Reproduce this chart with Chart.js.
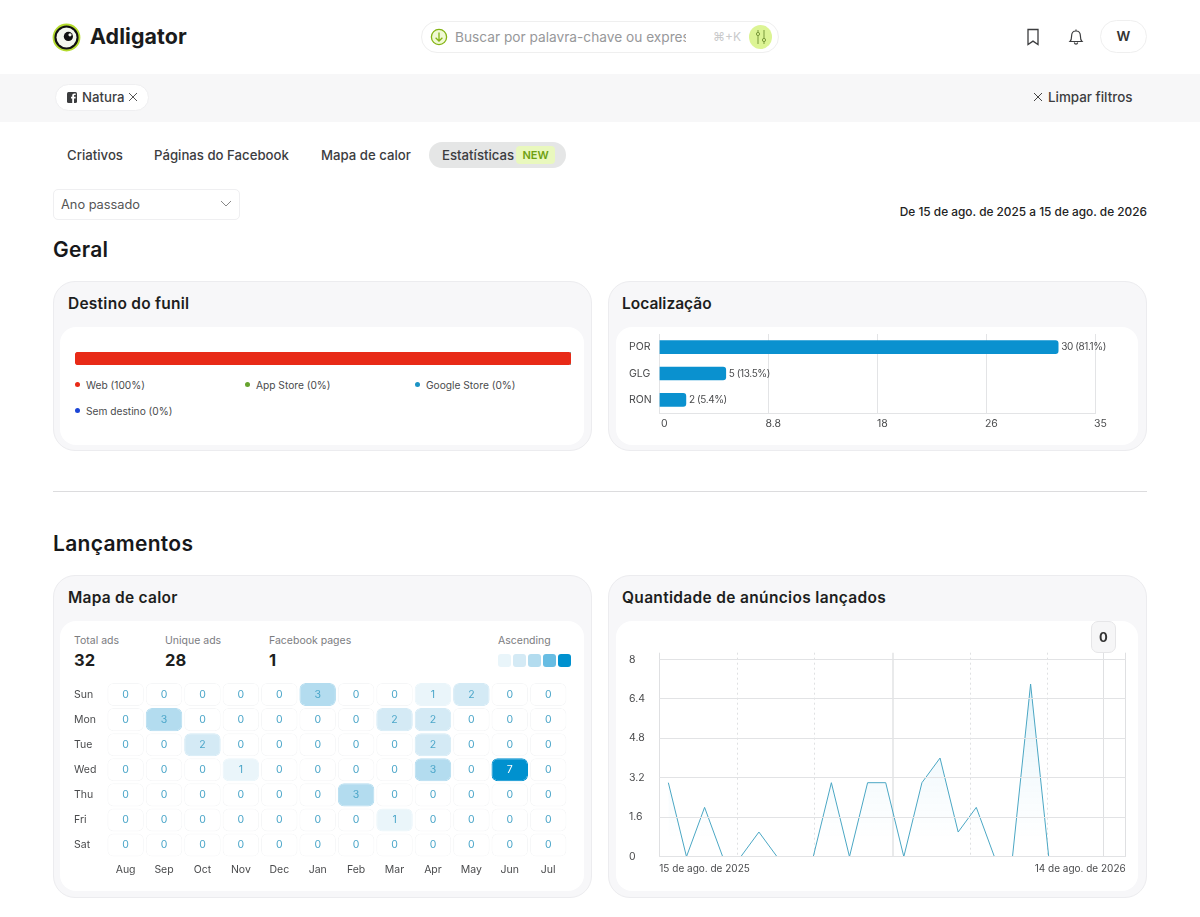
<!DOCTYPE html>
<html lang="pt">
<head>
<meta charset="utf-8">
<title>Adligator</title>
<script src="https://cdn.jsdelivr.net/npm/chart.js@4"></script>
<style>
html, body { margin: 0; padding: 0; background: #fff; }
body { position: relative; width: 1200px; height: 917px; overflow: hidden; font-family: Inter, sans-serif; color: #3c3d3f; }
.abs { position: absolute; }
.t { position: absolute; white-space: nowrap; line-height: 20px; }
.card { position: absolute; background: #f7f7f9; border: 1px solid #ececef; border-radius: 22px; box-sizing: border-box; }
.inner { position: absolute; background: #fff; border-radius: 16px; }
.cardTitle { font-size: 15.5px; font-weight: 600; color: #1d1e20; letter-spacing: 0.25px; }
.h2 { font-size: 21px; font-weight: 600; color: #17181a; letter-spacing: 0.3px; }
canvas { position: absolute; }
.stat { font-size: 16.5px; font-weight: 700; color: #1d1e20; }
.statLabel { font-size: 10.5px; color: #7b7c7f; }
.lgDot { position: absolute; width: 5px; height: 5px; border-radius: 50%; }
.lgText { font-size: 10.2px; color: #4a4b4d; }
.swatch { position: absolute; top: 654px; width: 13px; height: 13px; border-radius: 3px; }
</style>
</head>
<body>

<!-- header -->
<svg class="abs" style="left:52px;top:23px" width="29" height="29" viewBox="0 0 29 29">
  <circle cx="14.5" cy="14.5" r="13" fill="#111" stroke="#b5dc2f" stroke-width="1.8"/>
  <circle cx="14.5" cy="14.5" r="10" fill="#f4f7ee"/>
  <circle cx="16.4" cy="13.4" r="4.6" fill="#111"/>
  <circle cx="18" cy="11.8" r="1.6" fill="#f4f7ee"/>
</svg>
<div class="t" style="left:90px;top:26px;font-size:21.4px;font-weight:700;color:#1a1b1c;letter-spacing:0.1px">Adligator</div>

<div class="abs" style="left:421px;top:21px;width:358px;height:32px;border:1px solid #efefef;border-radius:16px;box-sizing:border-box"></div>
<svg class="abs" style="left:430px;top:28px" width="18" height="18" viewBox="0 0 18 18" fill="none" stroke="#84b414" stroke-width="1.3">
  <circle cx="9" cy="9" r="7.6" fill="#f0f9d4"/><path d="M9 4.5v8.5M5.6 9.8 9 13l3.4-3.2"/>
</svg>
<div class="abs" style="left:455px;top:26px;width:231px;height:22px;overflow:hidden">
  <div class="t" style="left:0;top:1px;font-size:13.7px;color:#97989a">Buscar por palavra-chave ou expressão</div>
</div>
<div class="t" style="left:713px;top:27px;font-size:12px;color:#c9cacb">⌘+K</div>
<div class="abs" style="left:749px;top:25px;width:23px;height:24px;background:#dcf494;border-radius:50%"></div>
<svg class="abs" style="left:754px;top:29px" width="14" height="16" viewBox="0 0 14 16" fill="none" stroke="#7b9a3c" stroke-width="1">
  <path d="M4 1v14M10 1v14"/><circle cx="4" cy="5" r="1.6" fill="#dcf494"/><circle cx="10" cy="11" r="1.6" fill="#dcf494"/>
</svg>

<svg class="abs" style="left:1026px;top:28px" width="14" height="18" viewBox="0 0 14 18" fill="none" stroke="#3c3d3f" stroke-width="1.3">
  <path d="M2 1.5h10v15l-5-3.4-5 3.4z"/>
</svg>
<svg class="abs" style="left:1068px;top:28px" width="16" height="18" viewBox="0 0 16 18" fill="none" stroke="#3c3d3f" stroke-width="1.2">
  <path d="M2 13.5c1.4-1.4 1.6-3 1.6-5.5C3.6 5 5.500 3 8 3s4.400 2 4.400 5c0 2.500.2 4.100 1.600 5.500zM6.300 14.500c.3 1.200 1 1.700 1.700 1.700s1.400-.5 1.700-1.700M8 1.500V3"/>
</svg>
<div class="abs" style="left:1100px;top:20px;width:47px;height:33px;border:1px solid #efefef;border-radius:17px;box-sizing:border-box"></div>
<div class="t" style="left:1100px;width:47px;text-align:center;top:26px;font-size:13.5px;font-weight:600;color:#333">W</div>

<!-- filter bar -->
<div class="abs" style="left:0;top:74px;width:1200px;height:48px;background:#f7f7f8"></div>
<div class="abs" style="left:55px;top:84px;width:94px;height:27px;background:#fff;border:1px solid #efeff1;border-radius:14px;box-sizing:border-box"></div>
<svg class="abs" style="left:67px;top:92px" width="10" height="11" viewBox="0 0 10 11">
  <rect width="10" height="11" rx="1.500" fill="#3c3d3f"/><path d="M7 11V6.500h1.500l.2-1.700H7V3.700c0-.5.2-.8.9-.8h.8V1.400H7.400C6 1.400 5.200 2.200 5.200 3.500v1.300H4v1.700h1.200V11z" fill="#fff"/>
</svg>
<div class="t" style="left:82px;top:87px;font-size:13.2px;font-weight:500;color:#3c3d3f">Natura</div>
<svg class="abs" style="left:128px;top:92px" width="10" height="10" stroke="#555" stroke-width="1"><path d="M1 1l8 8M9 1l-8 8"/></svg>
<svg class="abs" style="left:1033px;top:92px" width="10" height="10" stroke="#444" stroke-width="1"><path d="M1 1l8 8M9 1l-8 8"/></svg>
<div class="t" style="left:1048px;top:87px;font-size:13.4px;font-weight:500;color:#3c3d3f">Limpar filtros</div>

<!-- tabs -->
<div class="t" style="left:67px;top:145px;font-size:13.2px;font-weight:500">Criativos</div>
<div class="t" style="left:154px;top:145px;font-size:13.2px;font-weight:500">Páginas do Facebook</div>
<div class="t" style="left:321px;top:145px;font-size:13.2px;font-weight:500">Mapa de calor</div>
<div class="abs" style="left:429px;top:142px;width:137px;height:26px;background:#e5e6e6;border-radius:13px"></div>
<div class="t" style="left:442px;top:145px;font-size:13.2px;font-weight:500">Estatísticas</div>
<div class="abs" style="left:516px;top:146px;width:39px;height:18px;background:#e9f8bd;border-radius:4px"></div>
<div class="t" style="left:516px;width:39px;text-align:center;top:145px;font-size:11px;font-weight:600;color:#6ea112">NEW</div>

<div class="abs" style="left:53px;top:189px;width:187px;height:31px;border:1px solid #efeff1;border-radius:5px;box-sizing:border-box"></div>
<div class="t" style="left:61px;top:195px;font-size:12.8px;color:#555">Ano passado</div>
<svg class="abs" style="left:220px;top:200px" width="12" height="8" fill="none" stroke="#888" stroke-width="1"><path d="M1 1l5 5 5-5"/></svg>
<div class="t" style="right:53px;top:202px;font-size:11.85px;font-weight:500;color:#222">De 15 de ago. de 2025 a 15 de ago. de 2026</div>

<!-- geral -->
<div class="t h2" style="left:53px;top:240px">Geral</div>
<div class="card" style="left:53px;top:281px;width:539px;height:170px"></div>
<div class="inner" style="left:60px;top:327px;width:524px;height:118px"></div>
<div class="t cardTitle" style="left:68px;top:294px">Destino do funil</div>
<canvas id="funnelChart" width="496" height="13" style="left:75px;top:352px"></canvas>
<div id="funnelLegend"></div>

<div class="card" style="left:608px;top:281px;width:539px;height:170px"></div>
<div class="inner" style="left:616px;top:327px;width:522px;height:118px"></div>
<div class="t cardTitle" style="left:622px;top:294px;letter-spacing:0">Localização</div>
<canvas id="locationChart" width="510" height="104" style="left:629px;top:334px"></canvas>

<div class="abs" style="left:53px;top:491px;width:1094px;height:1px;background:#dcdcde"></div>

<!-- lancamentos -->
<div class="t h2" style="left:53px;top:534px">Lançamentos</div>
<div class="card" style="left:53px;top:575px;width:539px;height:323px"></div>
<div class="inner" style="left:60px;top:621px;width:524px;height:270px"></div>
<div class="t cardTitle" style="left:68px;top:588px">Mapa de calor</div>

<div class="t statLabel" style="left:74px;top:631px">Total ads</div>
<div class="t stat" style="left:74px;top:650px">32</div>
<div class="t statLabel" style="left:165px;top:631px">Unique ads</div>
<div class="t stat" style="left:165px;top:650px">28</div>
<div class="t statLabel" style="left:269px;top:631px">Facebook pages</div>
<div class="t stat" style="left:269px;top:650px">1</div>
<div class="t statLabel" style="left:498px;top:631px">Ascending</div>
<div id="heatLegend"></div>
<canvas id="heatChart" width="500" height="199" style="left:74px;top:682px"></canvas>

<div class="card" style="left:608px;top:575px;width:539px;height:323px"></div>
<div class="inner" style="left:616px;top:621px;width:522px;height:270px"></div>
<div class="t cardTitle" style="left:622px;top:588px;letter-spacing:0.33px">Quantidade de anúncios lançados</div>
<canvas id="lineChart" width="510" height="240" style="left:629px;top:640px"></canvas>
<div class="abs" style="left:1091px;top:621px;width:25px;height:32px;background:#f6f6f7;border:1px solid #e6e6e8;border-radius:7px;box-sizing:border-box"></div>
<div class="t" style="left:1091px;width:25px;text-align:center;top:627px;font-size:13px;font-weight:700;color:#333">0</div>

<script>
const funnelNames = ['Web', 'App Store', 'Google Store', 'Sem destino'];
const funnelValues = [100, 0, 0, 0];
const funnelColors = ['#e82a17', '#66a32e', '#1b93c4', '#1b45d6'];

const locationNames = ['POR', 'GLG', 'RON'];
const locationValues = [30, 5, 2];
const locationPercents = ['81.1%', '13.5%', '5.4%'];
const locationTickLabels = ['0', '8.8', '18', '26', '35'];
const locationAxisMax = 32.8;

const heatMonths = ['Aug', 'Sep', 'Oct', 'Nov', 'Dec', 'Jan', 'Feb', 'Mar', 'Apr', 'May', 'Jun', 'Jul'];
const heatDays = ['Sun', 'Mon', 'Tue', 'Wed', 'Thu', 'Fri', 'Sat'];
const sunValues = [0, 0, 0, 0, 0, 3, 0, 0, 1, 2, 0, 0];
const monValues = [0, 3, 0, 0, 0, 0, 0, 2, 2, 0, 0, 0];
const tueValues = [0, 0, 2, 0, 0, 0, 0, 0, 2, 0, 0, 0];
const wedValues = [0, 0, 0, 1, 0, 0, 0, 0, 3, 0, 7, 0];
const thuValues = [0, 0, 0, 0, 0, 0, 3, 0, 0, 0, 0, 0];
const friValues = [0, 0, 0, 0, 0, 0, 0, 1, 0, 0, 0, 0];
const satValues = [0, 0, 0, 0, 0, 0, 0, 0, 0, 0, 0, 0];
const heatRows = [sunValues, monValues, tueValues, wedValues, thuValues, friValues, satValues];
const heatColors = {0: '#ffffff', 1: '#eaf5fa', 2: '#d4eaf5', 3: '#b3dcef', 7: '#0091cf'};
const heatLegendColors = ['#e9f5fa', '#d4eaf5', '#b3dcef', '#68bde3', '#0091cf'];

const lineValues = [3, 0, 2, 0, 0, 1, 0, 0, 0, 3, 0, 3, 3, 0, 3, 4, 1, 2, 0, 0, 7, 0, 0, 0, 0, 0];
const lineYTicks = [0, 1.6, 3.2, 4.8, 6.4, 8];
const lineYMax = 8.27;
const lineEndLabels = ['15 de ago. de 2025', '14 de ago. de 2026'];
// dividers along the date axis, 5.71 is the hover crosshair
const lineDividers = [0, 1, 2, 3, 4, 5, 5.71, 6];
const dashedDividers = [1, 2, 4, 5];

const fontFamily = 'Inter, sans-serif';
Chart.defaults.font.family = fontFamily;
Chart.defaults.color = '#4a4b4d';
Chart.defaults.animation = false;
Chart.defaults.plugins.legend.display = false;
Chart.defaults.plugins.tooltip.enabled = false;
Chart.defaults.responsive = false;

// funnel legend
const legendBox = document.getElementById('funnelLegend');
const legendSpots = [[75, 385], [245, 385], [415, 385], [75, 411]];
funnelNames.forEach((name, i) => {
    const [x, y] = legendSpots[i];
    legendBox.innerHTML += `<div class="lgDot" style="left:${x}px;top:${y - 3}px;background:${funnelColors[i]}"></div>`
        + `<div class="t lgText" style="left:${x + 11}px;top:${y - 10}px">${name} (${funnelValues[i]}%)</div>`;
});

const heatLegendBox = document.getElementById('heatLegend');
heatLegendColors.forEach((color, i) => {
    heatLegendBox.innerHTML += `<div class="swatch" style="left:${498 + i * 15}px;background:${color}"></div>`;
});

new Chart(document.getElementById('funnelChart'), {
    type: 'bar',
    data: {
        labels: ['Destino'],
        datasets: funnelNames.map((name, i) => ({
            label: name,
            data: [funnelValues[i]],
            backgroundColor: funnelColors[i],
            borderRadius: 4,
            borderSkipped: false,
            barPercentage: 1,
            categoryPercentage: 1
        }))
    },
    options: {
        indexAxis: 'y',
        scales: {
            x: {display: false, stacked: true, min: 0, max: 100},
            y: {display: false, stacked: true}
        }
    }
});

const locationLabelPlugin = {
    id: 'locationLabels',
    afterDatasetsDraw(chart) {
        const ctx = chart.ctx;
        ctx.save();
        ctx.font = '10px ' + fontFamily;
        ctx.letterSpacing = '-0.4px';
        ctx.fillStyle = '#4a4b4d';
        ctx.textBaseline = 'middle';
        chart.getDatasetMeta(0).data.forEach((bar, i) => {
            ctx.fillText(`${locationValues[i]} (${locationPercents[i]})`, bar.x + 3, bar.y);
        });
        ctx.restore();
    }
};

new Chart(document.getElementById('locationChart'), {
    type: 'bar',
    plugins: [locationLabelPlugin],
    data: {
        labels: locationNames,
        datasets: [{
            data: locationValues,
            backgroundColor: '#0a91cf',
            barThickness: 13,
            borderRadius: {topRight: 3, bottomRight: 3}
        }]
    },
    options: {
        indexAxis: 'y',
        layout: {padding: {right: 43.6}},
        scales: {
            x: {
                min: 0,
                max: locationAxisMax,
                afterBuildTicks: scale => {
                    scale.ticks = locationTickLabels.map((label, i) => ({value: locationAxisMax * i / 4}));
                },
                afterFit: scale => { scale.height = 25; scale.paddingLeft = 0; scale.paddingRight = 0; },
                grid: {color: '#e3e4e6', drawTicks: false},
                border: {color: '#e3e4e6'},
                ticks: {
                    font: {size: 10.5},
                    padding: 5,
                    maxRotation: 0,
                    autoSkip: false,
                    labelOffset: 5,
                    callback: (value, i) => locationTickLabels[i]
                }
            },
            y: {
                afterFit: scale => { scale.width = 30.3; scale.paddingTop = 0; scale.paddingBottom = 0; },
                grid: {display: false},
                border: {color: '#e3e4e6'},
                ticks: {font: {size: 10.5}, crossAlign: 'far', padding: 0}
            }
        }
    }
});

const heatTextPlugin = {
    id: 'heatText',
    afterDatasetsDraw(chart) {
        const ctx = chart.ctx;
        ctx.save();
        ctx.font = '10.5px ' + fontFamily;
        ctx.textAlign = 'center';
        ctx.textBaseline = 'middle';
        heatRows.forEach((row, r) => {
            chart.getDatasetMeta(r).data.forEach((cell, c) => {
                const center = cell.getCenterPoint();
                ctx.fillStyle = row[c] === 7 ? '#ffffff' : '#4ba6c9';
                ctx.fillText(row[c], center.x, center.y);
            });
        });
        ctx.restore();
    }
};

new Chart(document.getElementById('heatChart'), {
    type: 'bar',
    plugins: [heatTextPlugin],
    data: {
        labels: heatMonths,
        datasets: heatRows.map((row, r) => ({
            label: heatDays[r],
            data: row.map(() => [r + 0.04, r + 0.96]),
            grouped: false,
            barPercentage: 0.95,
            categoryPercentage: 1,
            borderRadius: 6,
            borderSkipped: false,
            borderWidth: 1,
            backgroundColor: row.map(v => heatColors[v]),
            borderColor: row.map(v => v === 0 ? '#f5f6f7' : heatColors[v])
        }))
    },
    options: {
        layout: {padding: {right: 6.6}},
        scales: {
            x: {
                grid: {display: false, drawTicks: false},
                border: {display: false},
                afterFit: scale => { scale.height = 23.4; scale.paddingLeft = 0; scale.paddingRight = 0; },
                ticks: {font: {size: 10.5}, padding: 6, maxRotation: 0}
            },
            y: {
                min: 0,
                max: 7,
                reverse: true,
                afterBuildTicks: scale => {
                    scale.ticks = heatDays.map((day, i) => ({value: i + 0.5}));
                },
                afterFit: scale => { scale.width = 32.4; scale.paddingTop = 0; scale.paddingBottom = 0; },
                grid: {display: false, drawTicks: false},
                border: {display: false},
                ticks: {
                    font: {size: 10.5},
                    crossAlign: 'far',
                    padding: 0,
                    autoSkip: false,
                    callback: (value, i) => heatDays[i]
                }
            }
        }
    }
});

new Chart(document.getElementById('lineChart'), {
    type: 'line',
    data: {
        datasets: [{
            data: lineValues.map((v, i) => ({x: i, y: v})),
            borderColor: '#4ba7c4',
            borderWidth: 1,
            pointRadius: 0,
            tension: 0,
            fill: 'origin',
            xAxisID: 'x',
            backgroundColor: context => {
                const area = context.chart.chartArea;
                if (!area) return 'transparent';
                const gradient = context.chart.ctx.createLinearGradient(0, area.top + 30, 0, area.bottom);
                gradient.addColorStop(0, 'rgba(0, 145, 207, 0.11)');
                gradient.addColorStop(0.5, 'rgba(0, 145, 207, 0.045)');
                gradient.addColorStop(0.9, 'rgba(0, 145, 207, 0)');
                return gradient;
            }
        }]
    },
    options: {
        layout: {padding: {top: 12.7, right: 13.3}},
        scales: {
            x: {type: 'linear', display: false, min: -0.5, max: 25.25},
            dates: {
                type: 'linear',
                axis: 'x',
                position: 'bottom',
                min: 0,
                max: 6,
                afterBuildTicks: scale => {
                    scale.ticks = lineDividers.map(v => ({value: v}));
                },
                afterFit: scale => { scale.height = 23.3; scale.paddingLeft = 0; scale.paddingRight = 0; },
                grid: {
                    drawTicks: false,
                    color: (c) => c.tick && c.tick.value === 3 ? '#e9eaeb' : '#dfe0e2',
                    lineWidth: c => c.tick && c.tick.value === 3 ? 2 : 1
                },
                border: {
                    display: false,
                    dash: c => c.tick && dashedDividers.includes(c.tick.value) ? [2, 3] : []
                },
                ticks: {
                    font: {size: 10},
                    padding: 6,
                    align: 'inner',
                    autoSkip: false,
                    maxRotation: 0,
                    callback: value => value === 0 ? lineEndLabels[0] : value === 6 ? lineEndLabels[1] : ''
                }
            },
            y: {
                min: 0,
                max: lineYMax,
                afterBuildTicks: scale => {
                    scale.ticks = lineYTicks.map(v => ({value: v}));
                },
                afterFit: scale => { scale.width = 30.3; scale.paddingTop = 0; scale.paddingBottom = 0; },
                grid: {color: '#e2e3e5', z: 1, drawTicks: false},
                border: {display: false},
                ticks: {font: {size: 10.5}, crossAlign: 'far', padding: 0, autoSkip: false, callback: value => String(value)}
            }
        }
    }
});
</script>
</body>
</html>
